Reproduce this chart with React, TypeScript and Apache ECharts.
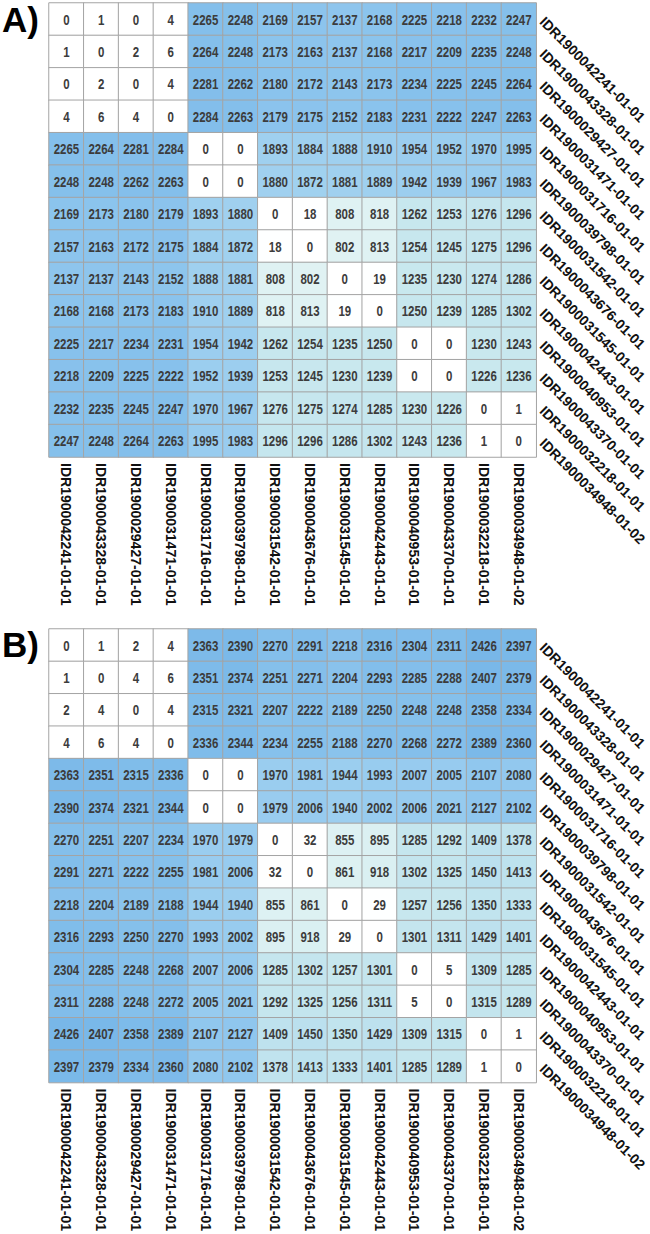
import React, { useEffect, useRef } from "react";
import * as echarts from "echarts";

const names = [
  "IDR1900042241-01-01",
  "IDR1900043328-01-01",
  "IDR1900029427-01-01",
  "IDR1900031471-01-01",
  "IDR1900031716-01-01",
  "IDR1900039798-01-01",
  "IDR1900031542-01-01",
  "IDR1900043676-01-01",
  "IDR1900031545-01-01",
  "IDR1900042443-01-01",
  "IDR1900040953-01-01",
  "IDR1900043370-01-01",
  "IDR1900032218-01-01",
  "IDR1900034948-01-02",
];

const matrixA = [
  [0, 1, 0, 4, 2265, 2248, 2169, 2157, 2137, 2168, 2225, 2218, 2232, 2247],
  [1, 0, 2, 6, 2264, 2248, 2173, 2163, 2137, 2168, 2217, 2209, 2235, 2248],
  [0, 2, 0, 4, 2281, 2262, 2180, 2172, 2143, 2173, 2234, 2225, 2245, 2264],
  [4, 6, 4, 0, 2284, 2263, 2179, 2175, 2152, 2183, 2231, 2222, 2247, 2263],
  [2265, 2264, 2281, 2284, 0, 0, 1893, 1884, 1888, 1910, 1954, 1952, 1970, 1995],
  [2248, 2248, 2262, 2263, 0, 0, 1880, 1872, 1881, 1889, 1942, 1939, 1967, 1983],
  [2169, 2173, 2180, 2179, 1893, 1880, 0, 18, 808, 818, 1262, 1253, 1276, 1296],
  [2157, 2163, 2172, 2175, 1884, 1872, 18, 0, 802, 813, 1254, 1245, 1275, 1296],
  [2137, 2137, 2143, 2152, 1888, 1881, 808, 802, 0, 19, 1235, 1230, 1274, 1286],
  [2168, 2168, 2173, 2183, 1910, 1889, 818, 813, 19, 0, 1250, 1239, 1285, 1302],
  [2225, 2217, 2234, 2231, 1954, 1942, 1262, 1254, 1235, 1250, 0, 0, 1230, 1243],
  [2218, 2209, 2225, 2222, 1952, 1939, 1253, 1245, 1230, 1239, 0, 0, 1226, 1236],
  [2232, 2235, 2245, 2247, 1970, 1967, 1276, 1275, 1274, 1285, 1230, 1226, 0, 1],
  [2247, 2248, 2264, 2263, 1995, 1983, 1296, 1296, 1286, 1302, 1243, 1236, 1, 0],
];

const matrixB = [
  [0, 1, 2, 4, 2363, 2390, 2270, 2291, 2218, 2316, 2304, 2311, 2426, 2397],
  [1, 0, 4, 6, 2351, 2374, 2251, 2271, 2204, 2293, 2285, 2288, 2407, 2379],
  [2, 4, 0, 4, 2315, 2321, 2207, 2222, 2189, 2250, 2248, 2248, 2358, 2334],
  [4, 6, 4, 0, 2336, 2344, 2234, 2255, 2188, 2270, 2268, 2272, 2389, 2360],
  [2363, 2351, 2315, 2336, 0, 0, 1970, 1981, 1944, 1993, 2007, 2005, 2107, 2080],
  [2390, 2374, 2321, 2344, 0, 0, 1979, 2006, 1940, 2002, 2006, 2021, 2127, 2102],
  [2270, 2251, 2207, 2234, 1970, 1979, 0, 32, 855, 895, 1285, 1292, 1409, 1378],
  [2291, 2271, 2222, 2255, 1981, 2006, 32, 0, 861, 918, 1302, 1325, 1450, 1413],
  [2218, 2204, 2189, 2188, 1944, 1940, 855, 861, 0, 29, 1257, 1256, 1350, 1333],
  [2316, 2293, 2250, 2270, 1993, 2002, 895, 918, 29, 0, 1301, 1311, 1429, 1401],
  [2304, 2285, 2248, 2268, 2007, 2006, 1285, 1302, 1257, 1301, 0, 5, 1309, 1285],
  [2311, 2288, 2248, 2272, 2005, 2021, 1292, 1325, 1256, 1311, 5, 0, 1315, 1289],
  [2426, 2407, 2358, 2389, 2107, 2127, 1409, 1450, 1350, 1429, 1309, 1315, 0, 1],
  [2397, 2379, 2334, 2360, 2080, 2102, 1378, 1413, 1333, 1401, 1285, 1289, 1, 0],
];

const panelTitles = ["A)", "B)"];

const colorStops = ["#ffffff", "#eef8f8", "#dff2f3", "#c9e8ee", "#b0daee", "#95caef", "#76b6e8"];

function toTriples(m: number[][]) {
  const out: number[][] = [];
  m.forEach((row, y) => row.forEach((v, x) => out.push([x, y, v])));
  return out;
}

export default function App() {
  const ref = useRef<HTMLDivElement>(null);
  useEffect(() => {
    if (!ref.current) return;
    const chart = echarts.init(ref.current, null, { renderer: "svg" });
    const grids = [
      { left: 49, top: 3, width: 489, height: 454 },
      { left: 49, top: 629, width: 489, height: 454 },
    ];
    const axisFont = {
      fontFamily: "'Liberation Sans', Arial, sans-serif",
      fontSize: 14,
      fontWeight: "bold" as const,
      color: "#111",
    };
    const xAxes = grids.map((_, i) => ({
      type: "category",
      gridIndex: i,
      data: names,
      position: "bottom",
      axisLine: { show: false },
      axisTick: { show: false },
      splitLine: { show: false },
      axisLabel: { ...axisFont, rotate: -90, margin: 6, interval: 0 },
    }));
    const yAxes = grids.map((_, i) => ({
      type: "category",
      gridIndex: i,
      data: names,
      inverse: true,
      position: "right",
      axisLine: { show: false },
      axisTick: { show: false },
      splitLine: { show: false },
      axisLabel: { ...axisFont, rotate: -45, margin: 6, interval: 0 },
    }));
    const mats = [matrixA, matrixB];
    const heatSeries = mats.map((m, i) => ({
      type: "heatmap",
      xAxisIndex: i,
      yAxisIndex: i,
      data: toTriples(m),
      itemStyle: { borderColor: "#a4a4a4", borderWidth: 1 },
      emphasis: { disabled: true },
      label: { show: false },
    }));
    const labelSeries = mats.map((m, i) => ({
      type: "custom",
      xAxisIndex: i,
      yAxisIndex: i,
      data: toTriples(m),
      z: 10,
      silent: true,
      encode: { x: 0, y: 1 },
      renderItem: (_params: any, api: any) => {
        const pt = api.coord([api.value(0), api.value(1)]);
        return {
          type: "text",
          x: pt[0],
          y: pt[1] + 0.5,
          scaleX: 0.82,
          style: {
            text: String(api.value(2)),
            align: "center",
            verticalAlign: "middle",
            fontFamily: "'Liberation Sans', Arial, sans-serif",
            fontSize: 14,
            fontWeight: "bold",
            fill: "#3c3c3c",
          },
        };
      },
    }));
    const visualMaps = mats.map((_, i) => ({
      type: "continuous",
      show: false,
      seriesIndex: i,
      min: 0,
      max: 2450,
      inRange: { color: colorStops },
    }));
    chart.setOption({
      animation: false,
      backgroundColor: "#ffffff",
      grid: grids,
      xAxis: xAxes,
      yAxis: yAxes,
      visualMap: visualMaps,
      series: [...heatSeries, ...labelSeries],
      graphic: panelTitles.map((t, i) => ({
        type: "text",
        left: 2,
        top: i === 0 ? 2 : 627,
        style: {
          text: t,
          fontFamily: "'Liberation Sans', Arial, sans-serif",
          fontSize: 35,
          fontWeight: "bold",
          fill: "#000",
        },
      })),
    });
    return () => chart.dispose();
  }, []);
  return (
    <div
      ref={ref}
      style={{ position: "absolute", left: 0, top: 0, width: 650, height: 1234, background: "#fff" }}
    />
  );
}
